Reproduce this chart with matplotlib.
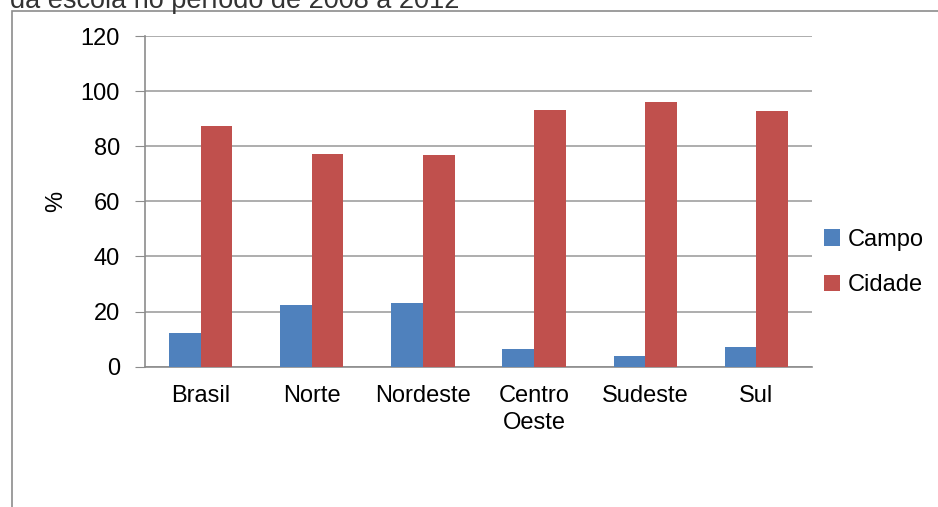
import numpy as np
import matplotlib.pyplot as plt
from matplotlib.patches import Rectangle

plt.rcParams["font.family"] = ["Liberation Sans", "DejaVu Sans"]

regioes = ["Brasil", "Norte", "Nordeste", "Centro\nOeste", "Sudeste", "Sul"]
campo = [12.1, 22.4, 23.2, 6.5, 3.8, 7.0]
cidade = [87.5, 77.3, 77.0, 93.2, 96.0, 92.7]

W, H = 938, 507
fig = plt.figure(figsize=(W/100, H/100), dpi=100)

# moldura cortada da figura original
fig.patches.append(Rectangle((12/W, -0.1), 1.2, 1-11/H+0.1, transform=fig.transFigure,
                             fill=False, edgecolor="#8c8c8c", linewidth=1.2))
fig.text(10/W, 1-1/H, "da escola no período de 2008 a 2012", fontsize=19.5,
         ha="left", va="center", color="#333333")

ax = fig.add_axes([145/W, 1-366.7/H, (812-145)/W, (366.7-36.1)/H])

x = np.arange(len(regioes))
w = 0.285
ax.bar(x-w/2, campo, w, color="#4F81BD", label="Campo", zorder=3)
ax.bar(x+w/2, cidade, w, color="#C0504D", label="Cidade", zorder=3)

ax.set_xlim(-0.5, len(regioes)-0.5)
ax.set_ylim(0, 120)
ax.set_yticks(np.arange(0, 121, 20))
ax.set_xticks(x)
ax.set_xticklabels(regioes, fontsize=17, linespacing=1.3)
ax.tick_params(axis="y", labelsize=17, length=7, color="#8c8c8c", pad=11)
ax.tick_params(axis="x", length=0, pad=13)

ax.grid(axis="y", color="#a0a0a0", linewidth=1.2, zorder=0)
for s in ["top", "right"]:
    ax.spines[s].set_visible(False)
for s in ["left", "bottom"]:
    ax.spines[s].set_color("#8c8c8c")
    ax.spines[s].set_linewidth(1.2)

ax.set_ylabel("%", fontsize=17, labelpad=10)

ax.legend(loc="center left", bbox_to_anchor=(1.0, 0.315), frameon=False, fontsize=17,
          handlelength=0.7, handleheight=0.7, handletextpad=0.3, labelspacing=1.0,
          borderaxespad=0.1)

fig.savefig("out.png", dpi=100)
